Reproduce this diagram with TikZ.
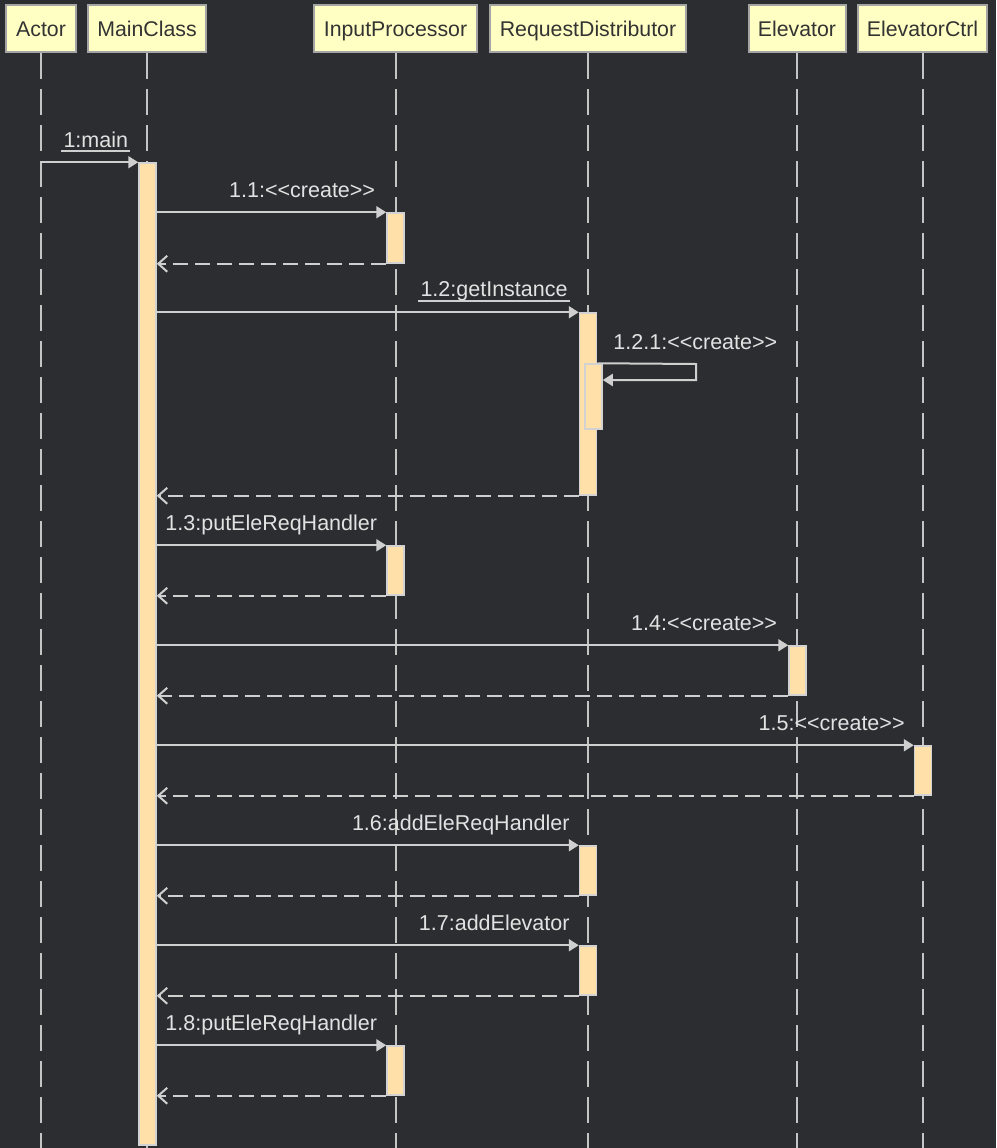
\documentclass[tikz,border=0pt]{standalone}
\usepackage{fontspec}
\newfontfamily\lsans{Liberation Sans}
\usetikzlibrary{arrows.meta}
\definecolor{bg}{HTML}{2B2D30}
\definecolor{linec}{HTML}{CFCFCF}
\definecolor{lifec}{HTML}{C4C4C4}
\definecolor{txtc}{HTML}{E2E2E2}
\definecolor{headfill}{HTML}{FFFFC3}
\definecolor{headdraw}{HTML}{A4A4A4}
\definecolor{headtxt}{HTML}{333333}
\definecolor{barfill}{HTML}{FFE0A8}
\definecolor{bardraw}{HTML}{D2D2D2}
\begin{document}
\begin{tikzpicture}[x=1pt,y=-1pt,
  head/.style={draw=headdraw, fill=headfill, line width=2pt, text=headtxt,
    minimum height=47pt, inner sep=0pt, text height=17pt, text depth=0pt,
    font=\lsans\fontsize{21.3}{25}\selectfont},
  life/.style={draw=lifec, line width=2pt, dash pattern=on 26pt off 10pt},
  bar/.style={draw=bardraw, fill=barfill, line width=1.5pt, minimum width=17pt, inner sep=0pt},
  call/.style={draw=linec, line width=2pt, -{Triangle[length=10pt,width=12pt]}},
  ret/.style={draw=linec, line width=2pt, dash pattern=on 15pt off 7pt, -{Straight Barb[length=9pt,width=16pt]}},
  lbl/.style={text=txtc, inner sep=0pt, font=\lsans\fontsize{21.5}{25}\selectfont},
  uline/.style={draw=linec, line width=2pt}
]
\fill[bg] (0,0) rectangle (996,1148);
\useasboundingbox (0,0) rectangle (996,1148);

% headers
\node[head, minimum width=70pt] (actor) at (41,28.5) {Actor};
\node[head, minimum width=118pt] (main) at (147,28.5) {MainClass};
\node[head, minimum width=163pt] (ip) at (395.5,28.5) {InputProcessor};
\node[head, minimum width=196pt] (rd) at (588,28.5) {RequestDistributor};
\node[head, minimum width=97pt] (el) at (797,28.5) {Elevator};
\node[head, minimum width=129pt] (ct) at (922.5,28.5) {ElevatorCtrl};

% lifelines
\foreach \n in {actor,main,ip,rd,el,ct}{
  \draw[life] (\n.south) -- (\n.south |- 0,1148);
}

% activation bars
\node[bar, minimum height=982pt] (m) at (147.5,654) {};
\node[bar, minimum height=50pt] (ip1) at (395.5,238) {};
\node[bar, minimum height=182pt] (rd1) at (588,404) {};
\node[bar, minimum height=65pt] (rd2) at (593.5,396.5) {};
\node[bar, minimum height=49pt] (ip2) at (395.5,570.5) {};
\node[bar, minimum height=49pt] (el1) at (797.5,670.5) {};
\node[bar, minimum height=49pt] (ct1) at (923,770.5) {};
\node[bar, minimum height=49pt] (rd3) at (588,870.5) {};
\node[bar, minimum height=49pt] (rd4) at (588,970.5) {};
\node[bar, minimum height=49pt] (ip3) at (395.5,1070.5) {};

% 1:main
\draw[call] (actor.south |- m.north) -- (m.north west);
\node[lbl, anchor=base east] (l1) at ([shift={(-10,-15)}]m.north west) {1:main};
\draw[uline] ([shift={(-2,4)}]l1.base west) -- ([shift={(2,4)}]l1.base east);

% 1.1
\draw[call] (m.east |- ip1.north) -- (ip1.north west);
\node[lbl, anchor=base east] at ([shift={(-11,-15)}]ip1.north west) {1.1:<<create>>};
\draw[ret] (ip1.south west) -- (m.east |- ip1.south);

% 1.2
\draw[call] (m.east |- rd1.north) -- (rd1.north west);
\node[lbl, anchor=base east] (l12) at ([shift={(-11,-16)}]rd1.north west) {1.2:getInstance};
\draw[uline] ([shift={(-2,5)}]l12.base west) -- ([shift={(2,5)}]l12.base east);

% 1.2.1 self
\coordinate (s1) at (696,364);
\coordinate (s2) at (696,380);
\draw[call] (rd1.east |- rd2.north) -- (s1) -- (s2) -- (rd2.east |- s2);
\node[lbl, anchor=base west] at ([shift={(16,-15)}]rd1.east |- s1) {1.2.1:<<create>>};
\draw[ret] (rd1.south west) -- (m.east |- rd1.south);

% 1.3
\draw[call] (m.east |- ip2.north) -- (ip2.north west);
\node[lbl, anchor=base east] at ([shift={(-9,-15)}]ip2.north west) {1.3:putEleReqHandler};
\draw[ret] (ip2.south west) -- (m.east |- ip2.south);

% 1.4
\draw[call] (m.east |- el1.north) -- (el1.north west);
\node[lbl, anchor=base east] at ([shift={(-11,-15)}]el1.north west) {1.4:<<create>>};
\draw[ret] (el1.south west) -- (m.east |- el1.south);

% 1.5
\draw[call] (m.east |- ct1.north) -- (ct1.north west);
\node[lbl, anchor=base east] at ([shift={(-9,-15)}]ct1.north west) {1.5:<<create>>};
\draw[ret] (ct1.south west) -- (m.east |- ct1.south);

% 1.6
\draw[call] (m.east |- rd3.north) -- (rd3.north west);
\node[lbl, anchor=base east] at ([shift={(-9,-15)}]rd3.north west) {1.6:addEleReqHandler};
\draw[ret] (rd3.south west) -- (m.east |- rd3.south);

% 1.7
\draw[call] (m.east |- rd4.north) -- (rd4.north west);
\node[lbl, anchor=base east] at ([shift={(-9,-15)}]rd4.north west) {1.7:addElevator};
\draw[ret] (rd4.south west) -- (m.east |- rd4.south);

% 1.8
\draw[call] (m.east |- ip3.north) -- (ip3.north west);
\node[lbl, anchor=base east] at ([shift={(-9,-15)}]ip3.north west) {1.8:putEleReqHandler};
\draw[ret] (ip3.south west) -- (m.east |- ip3.south);
\end{tikzpicture}
\end{document}
